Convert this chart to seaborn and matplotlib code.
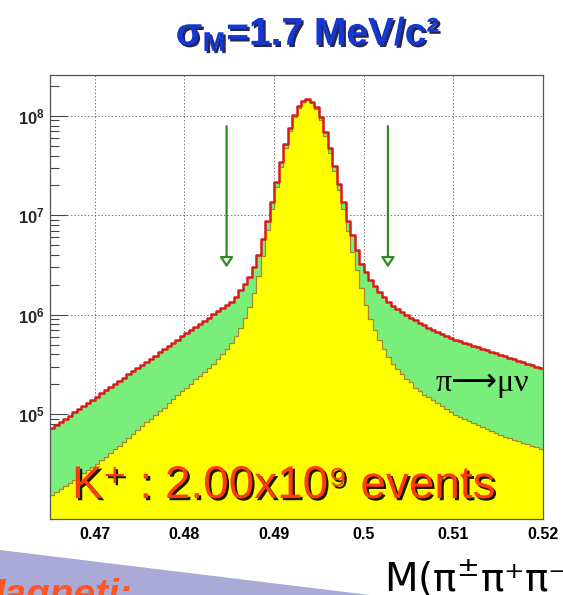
import numpy as np
import matplotlib
matplotlib.use("Agg")
import matplotlib.pyplot as plt
import matplotlib.patheffects as pe
from matplotlib.patches import Polygon
from matplotlib.ticker import LogLocator, NullFormatter
import seaborn as sns

# Invariant-mass binning in GeV/c^2 (0.5 MeV bins)
mass_lo, mass_hi, bin_width = 0.465, 0.520, 0.0005
bin_edges = np.round(np.arange(mass_lo, mass_hi + bin_width / 2, bin_width), 5)
bin_centers = bin_edges[:-1] + bin_width / 2

# All reconstructed K+ -> pi pi pi candidates (signal + pi -> mu nu decays in flight)
total_counts = [
    7.24e4, 7.80e4, 8.39e4, 9.02e4, 9.71e4, 1.045e5, 1.125e5, 1.21e5, 1.30e5, 1.40e5,
    1.51e5, 1.62e5, 1.75e5, 1.88e5, 2.02e5, 2.17e5, 2.34e5, 2.52e5, 2.71e5, 2.91e5,
    3.13e5, 3.37e5, 3.63e5, 3.90e5, 4.20e5, 4.52e5, 4.86e5, 5.23e5, 5.63e5, 6.06e5,
    6.52e5, 7.01e5, 7.54e5, 8.11e5, 8.73e5, 9.39e5, 1.01e6, 1.09e6, 1.17e6, 1.26e6,
    1.35e6, 1.51e6, 1.78e6, 2.04e6, 2.40e6, 3.02e6, 3.98e6, 5.75e6, 8.71e6, 1.35e7,
    2.19e7, 3.47e7, 5.25e7, 7.59e7, 1.02e8, 1.26e8, 1.41e8, 1.48e8, 1.38e8, 1.23e8,
    9.77e7, 6.92e7, 4.79e7, 3.16e7, 2.09e7, 1.35e7, 8.71e6, 6.31e6, 4.47e6, 3.24e6,
    2.69e6, 2.24e6, 1.95e6, 1.70e6, 1.51e6, 1.35e6, 1.23e6, 1.15e6, 1.07e6, 1.00e6,
    9.33e5, 8.81e5, 8.32e5, 7.85e5, 7.41e5, 7.08e5, 6.76e5, 6.46e5, 6.17e5, 5.89e5,
    5.62e5, 5.43e5, 5.25e5, 5.07e5, 4.90e5, 4.73e5, 4.57e5, 4.42e5, 4.27e5, 4.12e5,
    3.98e5, 3.85e5, 3.72e5, 3.59e5, 3.47e5, 3.35e5, 3.24e5, 3.13e5, 3.02e5, 2.92e5,
]

# Candidates without a pi -> mu nu decay
k3pi_counts = [
    1.55e4, 1.66e4, 1.78e4, 1.91e4, 2.04e4, 2.19e4, 2.37e4, 2.57e4, 2.75e4, 2.95e4,
    3.16e4, 3.44e4, 3.75e4, 4.08e4, 4.45e4, 4.84e4, 5.27e4, 5.75e4, 6.31e4, 6.92e4,
    7.59e4, 8.28e4, 9.04e4, 9.86e4, 1.08e5, 1.17e5, 1.29e5, 1.41e5, 1.55e5, 1.70e5,
    1.86e5, 2.04e5, 2.24e5, 2.45e5, 2.69e5, 2.95e5, 3.24e5, 3.63e5, 4.07e5, 4.57e5,
    5.25e5, 6.17e5, 7.41e5, 9.33e5, 1.20e6, 1.66e6, 2.45e6, 3.89e6, 7.08e6, 1.15e7,
    1.91e7, 3.09e7, 4.79e7, 7.08e7, 9.77e7, 1.20e8, 1.38e8, 1.45e8, 1.35e8, 1.17e8,
    9.12e7, 6.31e7, 4.27e7, 2.82e7, 1.82e7, 1.15e7, 6.92e6, 4.27e6, 2.82e6, 1.86e6,
    1.26e6, 9.12e5, 7.08e5, 5.62e5, 4.57e5, 3.80e5, 3.24e5, 2.88e5, 2.57e5, 2.29e5,
    2.09e5, 1.86e5, 1.70e5, 1.58e5, 1.48e5, 1.38e5, 1.29e5, 1.20e5, 1.12e5, 1.05e5,
    9.77e4, 9.33e4, 8.91e4, 8.51e4, 8.13e4, 7.76e4, 7.41e4, 7.08e4, 6.76e4, 6.46e4,
    6.17e4, 5.96e4, 5.75e4, 5.56e4, 5.37e4, 5.19e4, 5.01e4, 4.84e4, 4.68e4, 4.52e4,
]

x_ticks = [0.47, 0.48, 0.49, 0.50, 0.51, 0.52]
x_tick_labels = ["0.47", "0.48", "0.49", "0.5", "0.51", "0.52"]
y_ticks = [1e5, 1e6, 1e7, 1e8]
y_tick_labels = [r"$\mathbf{10^{5}}$", r"$\mathbf{10^{6}}$", r"$\mathbf{10^{7}}$", r"$\mathbf{10^{8}}$"]

# Mass-window markers
window_x = [0.4847, 0.5027]
window_top, window_tip = 7.9e7, 3.0e6

GREEN_FILL = "#7aee7a"
YELLOW_FILL = "#ffff00"
RED_LINE = "#d81c1c"
YELLOW_EDGE = "#a88a2c"
ARROW_GREEN = "#2f8a22"

sns.set_theme(style="white")
plt.rcParams["font.family"] = ["Liberation Sans", "DejaVu Sans"]
plt.rcParams["mathtext.fontset"] = "custom"
plt.rcParams["mathtext.rm"] = "Liberation Sans:bold"
plt.rcParams["mathtext.bf"] = "Liberation Sans:bold"
plt.rcParams["mathtext.it"] = "Liberation Sans:bold"
plt.rcParams["mathtext.sf"] = "DejaVu Sans"

W, H = 563, 595
fig = plt.figure(figsize=(W / 100, H / 100), dpi=100)
fig.patch.set_facecolor("white")


def fx(px):
    return px / W


def fy(py):
    return 1 - py / H


ax = fig.add_axes([fx(50), fy(519), fx(543) - fx(50), fy(75) - fy(519)])
ax.set_yscale("log")

edges = list(bin_edges)
# stacked histogram: total (green) underneath, K3pi (yellow) on top
sns.histplot(x=bin_centers, weights=total_counts, bins=edges, element="step",
             fill=True, color=GREEN_FILL, alpha=1, linewidth=0, ax=ax)
sns.histplot(x=bin_centers, weights=k3pi_counts, bins=edges, element="step",
             fill=True, color=YELLOW_FILL, alpha=1, linewidth=0, ax=ax)
sns.histplot(x=bin_centers, weights=k3pi_counts, bins=edges, element="step",
             fill=False, color=YELLOW_EDGE, linewidth=0.9, ax=ax)
sns.histplot(x=bin_centers, weights=total_counts, bins=edges, element="step",
             fill=False, color=RED_LINE, linewidth=1.8, ax=ax)

ax.set_xlim(mass_lo, mass_hi)
ax.set_ylim(8.86e3, 2.58e8)
ax.set_xlabel("")
ax.set_ylabel("")

ax.set_xticks(x_ticks)
ax.set_xticklabels(x_tick_labels, fontweight="bold", fontsize=11.5)
ax.set_yticks(y_ticks)
ax.set_yticklabels(y_tick_labels, fontsize=12)
ax.yaxis.set_minor_locator(LogLocator(base=10, subs=np.arange(2, 10)))
ax.yaxis.set_minor_formatter(NullFormatter())
ax.tick_params(axis="x", length=0, pad=6, colors="black")
ax.tick_params(axis="y", which="major", direction="in", length=12, width=0.8,
               color="#444444", pad=4, left=True, right=False)
ax.tick_params(axis="y", which="minor", direction="in", length=6.5, width=0.8,
               color="#444444", left=True, right=False)

ax.grid(True, which="major", linestyle=(0, (1.5, 2.0)), linewidth=0.7, color="#777777")
ax.set_axisbelow(True)
for side in ["left", "right", "top", "bottom"]:
    ax.spines[side].set_color("#555555")
    ax.spines[side].set_linewidth(0.9)

for x in window_x:
    ax.annotate("", xy=(x, window_tip), xytext=(x, window_top),
                arrowprops=dict(arrowstyle="-|>,head_length=0.6,head_width=0.4",
                                ec=ARROW_GREEN, fc="white", lw=1.6,
                                shrinkA=0, shrinkB=0, mutation_scale=10))

fig.text(fx(436), fy(391), "π⟶μν", fontsize=23, color="black",
         family=["Liberation Serif", "DejaVu Sans"], ha="left", va="baseline")

fig.text(fx(72), fy(498), "K⁺ : 2.00x10⁹ events",
         fontsize=33, color="#ff3a0a", ha="left", va="baseline",
         family=["Liberation Sans", "DejaVu Sans"],
         path_effects=[pe.withSimplePatchShadow(offset=(1.6, -1.6),
                                                shadow_rgbFace="black", alpha=0.9)])

fig.text(fx(308), fy(45), r"$\mathbf{\sigma_{M}}$=1.7 MeV/c²",
         fontsize=28, fontweight="bold", color="#1538d0", ha="center", va="baseline",
         path_effects=[pe.withSimplePatchShadow(offset=(1.6, -1.6),
                                                shadow_rgbFace="#000033", alpha=0.85)])

# slide decorations below the frame
fig.patches.append(Polygon([(0, fy(550)), (fx(370), 0), (0, 0)], closed=True,
                           transform=fig.transFigure, facecolor="#aaaad6",
                           edgecolor="none", zorder=0))
fig.text(fx(-28), fy(606), "Magneti:", fontsize=28, fontweight="bold", style="italic",
         color="#ff5522", ha="left", va="baseline")
fig.text(fx(384), fy(592), r"M(π$^{\mathsf{\pm}}$π⁺π⁻)", fontsize=28,
         color="black", family=["DejaVu Sans"], ha="left", va="baseline")

fig.savefig("out.png", dpi=100, facecolor="white")
